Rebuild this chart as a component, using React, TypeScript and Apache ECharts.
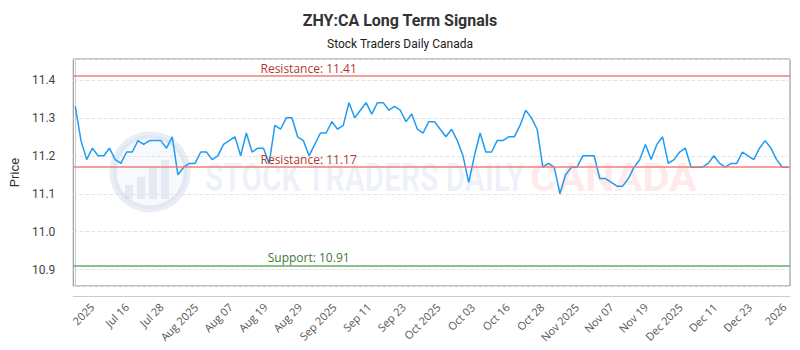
import React, { useEffect, useRef } from "react";
import * as echarts from "echarts";

// ---- data ----
const prices: number[] = [
  11.33, 11.24, 11.19, 11.22, 11.2, 11.2, 11.22, 11.19, 11.18, 11.21,
  11.21, 11.24, 11.23, 11.24, 11.24, 11.24, 11.22, 11.25, 11.15, 11.17,
  11.18, 11.18, 11.21, 11.21, 11.19, 11.2, 11.23, 11.24, 11.25, 11.2,
  11.26, 11.21, 11.22, 11.22, 11.18, 11.28, 11.27, 11.3, 11.3, 11.25,
  11.24, 11.2, 11.23, 11.26, 11.26, 11.29, 11.27, 11.28, 11.34, 11.3,
  11.32, 11.34, 11.31, 11.34, 11.34, 11.32, 11.33, 11.32, 11.29, 11.31,
  11.27, 11.26, 11.29, 11.29, 11.27, 11.25, 11.27, 11.24, 11.2, 11.13,
  11.2, 11.26, 11.21, 11.21, 11.24, 11.24, 11.25, 11.25, 11.28, 11.32,
  11.3, 11.27, 11.17, 11.18, 11.17, 11.1, 11.15, 11.17, 11.17, 11.2,
  11.2, 11.2, 11.14, 11.14, 11.13, 11.12, 11.12, 11.14, 11.17, 11.19,
  11.23, 11.19, 11.23, 11.25, 11.18, 11.19, 11.21, 11.22, 11.17, 11.17,
  11.17, 11.18, 11.2, 11.18, 11.17, 11.18, 11.18, 11.21, 11.2, 11.19,
  11.22, 11.24, 11.22, 11.19, 11.17, 11.17,
];

const xTickLabels: string[] = [
  "2025", "Jul 16", "Jul 28", "Aug 2025", "Aug 07", "Aug 19", "Aug 29",
  "Sep 2025", "Sep 11", "Sep 23", "Oct 2025", "Oct 03", "Oct 16", "Oct 28",
  "Nov 2025", "Nov 07", "Nov 19", "Dec 2025", "Dec 11", "Dec 23", "2026",
];
// tick positions in trading-day index units
const xTickStart = 2.95;
const xTickStep = 6.07;

const yTicks: number[] = [10.9, 11.0, 11.1, 11.2, 11.3, 11.4];
const yMin = 10.857;
const yMax = 11.455;

const resistanceHigh = 11.41;
const resistanceLow = 11.17;
const supportLevel = 10.91;

const titleText = "ZHY:CA Long Term Signals";
const subtitleText = "Stock Traders Daily Canada";

function fitScale(text: string, font: string, target: number): number {
  const c = document.createElement("canvas");
  const ctx = c.getContext("2d");
  if (!ctx) return 1;
  ctx.font = font;
  const w = ctx.measureText(text).width;
  return w > 0 ? target / w : 1;
}

export default function App() {
  const ref = useRef<HTMLDivElement>(null);

  useEffect(() => {
    if (!ref.current) return;
    const chart = echarts.init(ref.current, undefined, { renderer: "svg" });

    const tickPositions = xTickLabels.map((_, k) => xTickStart + k * xTickStep);
    const seriesData = prices.map((v, i) => [i, v]);

    const wmFont = "bold 38px Roboto";
    const s1 = fitScale("STOCK TRADERS DAILY", wmFont, 320);
    const s2 = fitScale("CANADA", wmFont, 167);

    const labelPad = [0, 246, 0, 0];

    const option: any = {
      animation: false,
      backgroundColor: "#fff",
      title: {
        text: titleText,
        subtext: subtitleText,
        left: "center",
        top: 7,
        itemGap: 10,
        textStyle: { fontFamily: "Roboto", fontWeight: "bold", fontSize: 16, color: "#333" },
        subtextStyle: { fontFamily: "Roboto", fontSize: 12, color: "#222" },
      },
      grid: {
        left: 70,
        right: 10,
        top: 59,
        bottom: 64,
        show: true,
        borderColor: "#888",
        borderWidth: 1,
        backgroundColor: "transparent",
      },
      graphic: [
        {
          type: "circle",
          z: -10,
          shape: { cx: 150, cy: 172, r: 37 },
          style: { fill: "rgba(120,145,200,0.06)", stroke: "rgba(120,145,200,0.16)", lineWidth: 7 },
        },
        {
          type: "group",
          z: -10,
          children: [
            { type: "rect", shape: { x: 125, y: 185, width: 8, height: 14 }, style: { fill: "rgba(120,145,200,0.14)" } },
            { type: "rect", shape: { x: 137, y: 177, width: 8, height: 22 }, style: { fill: "rgba(120,145,200,0.14)" } },
            { type: "rect", shape: { x: 149, y: 168, width: 8, height: 31 }, style: { fill: "rgba(120,145,200,0.14)" } },
            { type: "rect", shape: { x: 161, y: 160, width: 8, height: 39 }, style: { fill: "rgba(120,145,200,0.14)" } },
          ],
        },
        {
          type: "text",
          z: -10,
          x: 205,
          y: 178,
          scaleX: s1,
          style: {
            text: "STOCK TRADERS DAILY",
            font: wmFont,
            fill: "rgba(120,145,200,0.13)",
            textVerticalAlign: "middle",
          },
        },
        {
          type: "text",
          z: -10,
          x: 530,
          y: 178,
          scaleX: s2,
          style: {
            text: "CANADA",
            font: wmFont,
            fill: "rgba(250,90,90,0.15)",
            textVerticalAlign: "middle",
          },
        },
      ],
      xAxis: {
        type: "value",
        min: -0.35,
        max: prices.length - 1 + 0.35,
        offset: 10,
        axisLine: { show: true, lineStyle: { color: "#ccc" } },
        axisTick: { show: false },
        splitLine: { show: false },
        axisLabel: {
          customValues: tickPositions,
          rotate: 45,
          margin: 9,
          fontFamily: "Open Sans",
          fontSize: 11,
          color: "#555",
          formatter: (v: number) => {
            const k = Math.round((v - xTickStart) / xTickStep);
            return xTickLabels[k] ?? "";
          },
        },
      },
      yAxis: {
        type: "value",
        min: yMin,
        max: yMax,
        offset: 10,
        name: "Price",
        nameLocation: "middle",
        nameGap: 40,
        nameTextStyle: { fontFamily: "Roboto", fontSize: 13, color: "#333" },
        axisLine: { show: true, lineStyle: { color: "#ccc" } },
        axisTick: { show: false },
        axisLabel: {
          customValues: yTicks,
          fontFamily: "Roboto",
          fontSize: 12,
          color: "#444",
          formatter: (v: number) => v.toFixed(1),
        },
        splitLine: { show: true, lineStyle: { type: "dashed", color: "#e4e4e4" } },
      },
      series: [
        {
          type: "line",
          data: seriesData,
          showSymbol: false,
          symbol: "none",
          lineStyle: { color: "#1f9cf2", width: 1.5 },
          z: 3,
          markLine: {
            silent: true,
            symbol: "none",
            animation: false,
            label: {
              position: "insideMiddleTop",
              distance: 2,
              padding: labelPad,
              fontFamily: "Open Sans",
              fontSize: 12,
            },
            data: [
              {
                yAxis: resistanceHigh,
                lineStyle: { color: "rgba(238,120,110,0.7)", width: 2, type: "solid" },
                label: { formatter: `Resistance: ${resistanceHigh.toFixed(2)}`, color: "#b03a30" },
              },
              {
                yAxis: resistanceLow,
                lineStyle: { color: "rgba(238,120,110,0.7)", width: 2, type: "solid" },
                label: { formatter: `Resistance: ${resistanceLow.toFixed(2)}`, color: "#b03a30" },
              },
              {
                yAxis: supportLevel,
                lineStyle: { color: "rgba(110,175,110,0.8)", width: 2, type: "solid" },
                label: { formatter: `Support: ${supportLevel.toFixed(2)}`, color: "#3a7a3a" },
              },
            ],
          },
        },
      ],
    };

    chart.setOption(option);
    return () => chart.dispose();
  }, []);

  return (
    <div
      ref={ref}
      style={{ position: "fixed", left: 0, top: 0, width: 800, height: 350, background: "#fff" }}
    />
  );
}
